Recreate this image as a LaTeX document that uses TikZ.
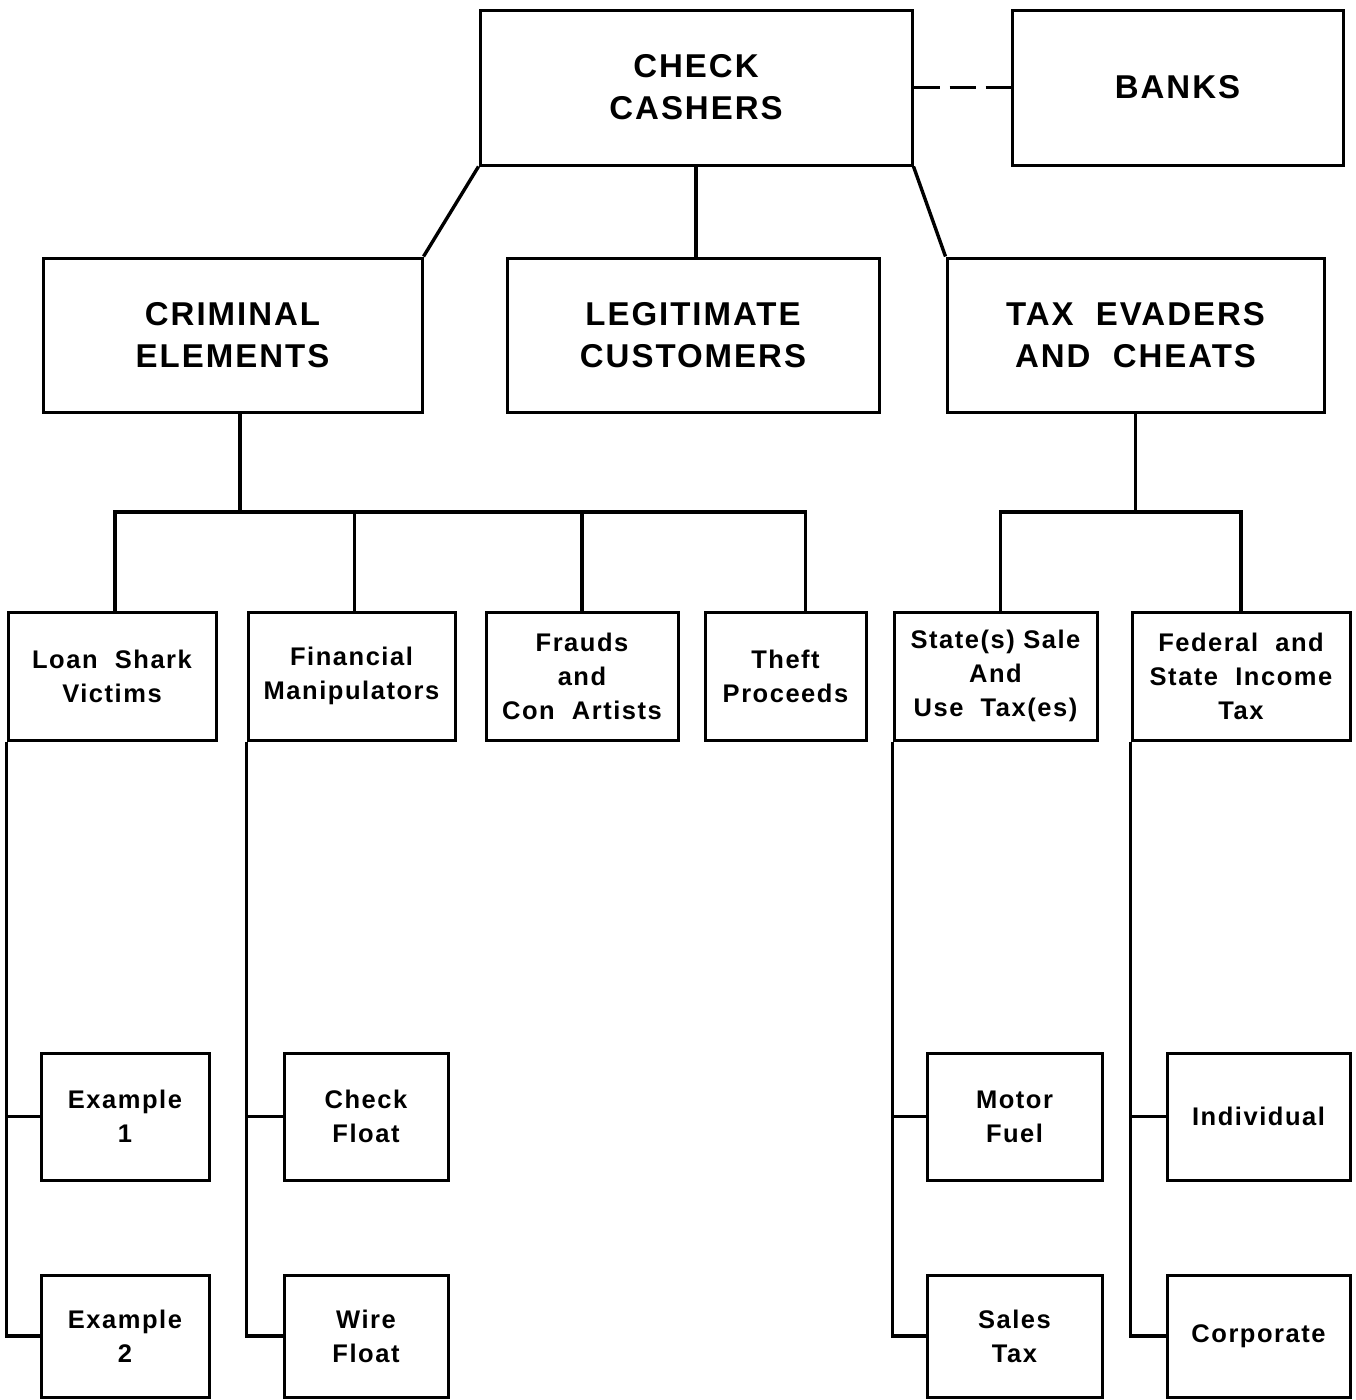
\documentclass[tikz,border=0pt]{standalone}
\usepackage{fontspec}
\newfontfamily\chartfont{Liberation Sans}[LetterSpace=6]
\usetikzlibrary{positioning}

\begin{document}
\begin{tikzpicture}[
    x=1pt, y=-1pt,
    box/.style={draw, line width=3pt, align=center, inner sep=0pt, font=\chartfont\bfseries},
    bigbox/.style={box, minimum height=155pt, font=\chartfont\bfseries\fontsize{33}{42}\selectfont},
    smallbox/.style={box, font=\chartfont\bfseries\fontsize{25.5}{34}\selectfont},
    link/.style={line width=3.4pt}
]
    \useasboundingbox (0,0) rectangle (1355,1400);

    % Top
    \node[bigbox, minimum width=432pt] (cashers) at (696,87.5) {CHECK\\CASHERS};
    \node[bigbox, minimum width=331pt] (banks) at (1177.5,87.5) {BANKS};

    % Second level
    \node[bigbox, minimum width=379pt, minimum height=154pt] (criminal) at (232.5,335) {CRIMINAL\\ELEMENTS};
    \node[bigbox, minimum width=372pt, minimum height=154pt] (legit) at (693,335) {LEGITIMATE\\CUSTOMERS};
    \node[bigbox, minimum width=377pt, minimum height=154pt] (taxev) at (1135.5,335) {TAX\ \ EVADERS\\AND\ \ CHEATS};

    % Third level
    \node[smallbox, minimum width=208pt, minimum height=128pt] (loan) at (112,676) {Loan\ \ Shark\\Victims};
    \node[smallbox, minimum width=207pt, minimum height=128pt] (fin) at (351.5,676) {Financial\\Manipulators};
    \node[smallbox, minimum width=192pt, minimum height=128pt] (fraud) at (582,676) {Frauds\\and\\Con\ \ Artists};
    \node[smallbox, minimum width=161pt, minimum height=128pt] (theft) at (785.5,676) {Theft\\Proceeds};
    \node[smallbox, minimum width=203pt, minimum height=128pt] (state) at (995.5,676) {State(s)\ Sale\\And\\Use\ \ Tax(es)};
    \node[smallbox, minimum width=218pt, minimum height=128pt] (fed) at (1241,676) {Federal\ \ and\\State\ \ Income\\Tax};

    % Bottom levels
    \node[smallbox, minimum width=168pt, minimum height=127pt] (ex1) at (125,1116.5) {Example\\1};
    \node[smallbox, minimum width=168pt, minimum height=122pt] (ex2) at (125,1336) {Example\\2};
    \node[smallbox, minimum width=164pt, minimum height=127pt] (chk) at (366,1116.5) {Check\\Float};
    \node[smallbox, minimum width=164pt, minimum height=122pt] (wire) at (366,1336) {Wire\\Float};
    \node[smallbox, minimum width=175pt, minimum height=127pt] (motor) at (1014.5,1116.5) {Motor\\Fuel};
    \node[smallbox, minimum width=175pt, minimum height=122pt] (sales) at (1014.5,1336) {Sales\\Tax};
    \node[smallbox, minimum width=183pt, minimum height=127pt] (indiv) at (1258.5,1116.5) {Individual};
    \node[smallbox, minimum width=183pt, minimum height=122pt] (corp) at (1258.5,1336) {Corporate};

    % Connections from the top
    \draw[link, dash pattern=on 26pt off 10pt] (cashers.east) -- (banks.west);
    \draw[link] (cashers.south west) -- (criminal.north east);
    \draw[link] (cashers.south) -- (cashers.south |- legit.north);
    \draw[link] (cashers.south east) -- (taxev.north west);

    % Criminal branch
    \coordinate (cbus) at (240,512);
    \draw[link] (cbus |- criminal.south) -- (cbus);
    \draw[link] ([xshift=3pt]loan.north) |- ([xshift=20pt]theft.north |- cbus) -- ([xshift=20pt]theft.north);
    \draw[link] ([xshift=3pt]fin.north) -- ([xshift=3pt]fin.north |- cbus);
    \draw[link] (fraud.north) -- (fraud.north |- cbus);

    % Tax branch
    \coordinate (tbus) at (1136,512);
    \draw[link] (taxev.south) -- (taxev.south |- tbus);
    \draw[link] ([xshift=5pt]state.north) |- (fed.north |- tbus) -- (fed.north);

    % Side trunks
    \draw[link] (loan.south west) |- (ex2.west);
    \draw[link] (loan.south west |- ex1.west) -- (ex1.west);
    \draw[link] (fin.south west) |- (wire.west);
    \draw[link] (fin.south west |- chk.west) -- (chk.west);
    \draw[link] (state.south west) |- (sales.west);
    \draw[link] (state.south west |- motor.west) -- (motor.west);
    \draw[link] (fed.south west) |- (corp.west);
    \draw[link] (fed.south west |- indiv.west) -- (indiv.west);
\end{tikzpicture}
\end{document}
